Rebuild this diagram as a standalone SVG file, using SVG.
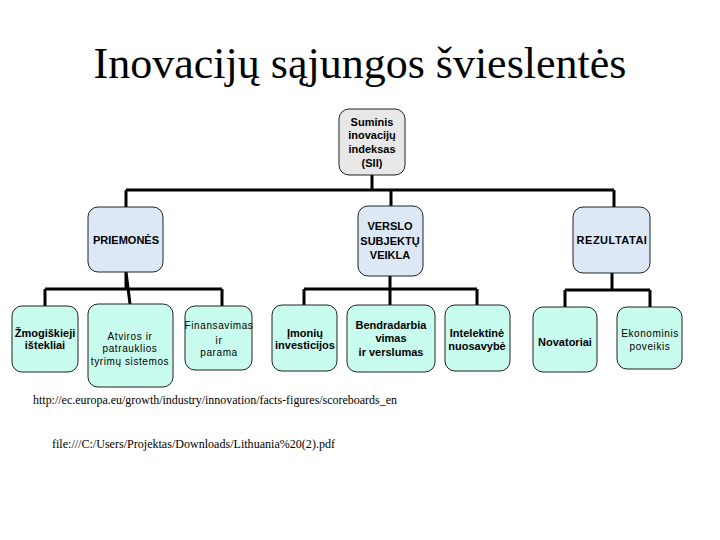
<svg xmlns="http://www.w3.org/2000/svg" width="720" height="540" viewBox="0 0 720 540">
<style>
.box{stroke:#222;stroke-width:1}
.top{fill:#e8e8e8}
.mid{fill:#dce8f6}
.low{fill:#c8fcee}
.b{font-family:"Liberation Sans",Arial,sans-serif;font-size:11px;font-weight:bold;fill:#000;text-anchor:middle}
.r{font-family:"Liberation Sans",Arial,sans-serif;font-size:10px;fill:#000;text-anchor:middle;letter-spacing:0.6px}
.title{font-family:"Liberation Serif","Times New Roman",serif;font-size:44px;fill:#000;text-anchor:middle}
.link{font-family:"Liberation Serif","Times New Roman",serif;font-size:12px;fill:#000}
.conn{stroke:#000;stroke-width:3;fill:none}
</style>
<rect width="720" height="540" fill="#fff"/>
<text class="title" x="360" y="78">Inovacijų sąjungos švieslentės</text>
<g id="connectors">
<path class="conn" d="M372 175V190M126 190H614M126 190V207M391 190V206M614 190V207"/>
<path class="conn" d="M126 272V289M45 289H222M45 289V306M222 289V306M126 272L130 304"/>
<path class="conn" d="M390 276V305M304 289H477M304 289V305M477 289V305"/>
<path class="conn" d="M612 273V290M565 290H650M565 290V307M650 290V307"/>
</g>
<g id="sii"><rect class="box top" x="339" y="109" width="66" height="66" rx="10"/>
<text class="b" x="372" y="126">Suminis</text><text class="b" x="372" y="139">inovacijų</text><text class="b" x="372" y="153">indeksas</text><text class="b" x="372" y="167">(SII)</text></g>
<g id="priemones"><rect class="box mid" x="88" y="207" width="75" height="65" rx="10"/>
<text class="b" x="126" y="244">PRIEMONĖS</text></g>
<g id="verslo"><rect class="box mid" x="358" y="206" width="65" height="70" rx="10"/>
<text class="b" x="390" y="230">VERSLO</text><text class="b" x="390" y="245">SUBJEKTŲ</text><text class="b" x="390" y="259">VEIKLA</text></g>
<g id="rezultatai"><rect class="box mid" x="573" y="207" width="77" height="66" rx="10"/>
<text class="b" x="612" y="244" style="letter-spacing:0.5px">REZULTATAI</text></g>
<g id="zmogiskieji"><rect class="box low" x="12" y="306" width="66" height="66" rx="10"/>
<text class="b" x="45" y="337">Žmogiškieji</text><text class="b" x="45" y="349">ištekliai</text></g>
<g id="atviros"><rect class="box low" x="88" y="304" width="85" height="83" rx="10"/>
<text class="r" x="130" y="340">Atviros ir</text><text class="r" x="130" y="352">patrauklios</text><text class="r" x="130" y="365">tyrimų sistemos</text></g>
<g id="finansavimas"><rect class="box low" x="185" y="306" width="67" height="64" rx="10"/>
<text class="r" x="219" y="329">Finansavimas</text><text class="r" x="219" y="344">ir</text><text class="r" x="219" y="356">parama</text></g>
<g id="imoniu"><rect class="box low" x="272" y="305" width="65" height="66" rx="10"/>
<text class="b" x="305" y="337">Įmonių</text><text class="b" x="305" y="349">investicijos</text></g>
<g id="bendradarbiavimas"><rect class="box low" x="347" y="305" width="88" height="67" rx="10"/>
<text class="b" x="391" y="329">Bendradarbia</text><text class="b" x="391" y="342">vimas</text><text class="b" x="391" y="356">ir verslumas</text></g>
<g id="intelektine"><rect class="box low" x="445" y="305" width="65" height="66" rx="10"/>
<text class="b" x="477" y="337">Intelektinė</text><text class="b" x="477" y="350">nuosavybė</text></g>
<g id="novatoriai"><rect class="box low" x="533" y="307" width="64" height="65" rx="10"/>
<text class="b" x="565" y="346">Novatoriai</text></g>
<g id="ekonominis"><rect class="box low" x="617" y="307" width="65" height="62" rx="10"/>
<text class="r" x="650" y="337">Ekonominis</text><text class="r" x="650" y="350">poveikis</text></g>
<text class="link" x="33" y="404" textLength="364" lengthAdjust="spacingAndGlyphs">http://ec.europa.eu/growth/industry/innovation/facts-figures/scoreboards_en</text>
<text class="link" x="52" y="448" textLength="283" lengthAdjust="spacingAndGlyphs">file:///C:/Users/Projektas/Downloads/Lithuania%20(2).pdf</text>
</svg>
